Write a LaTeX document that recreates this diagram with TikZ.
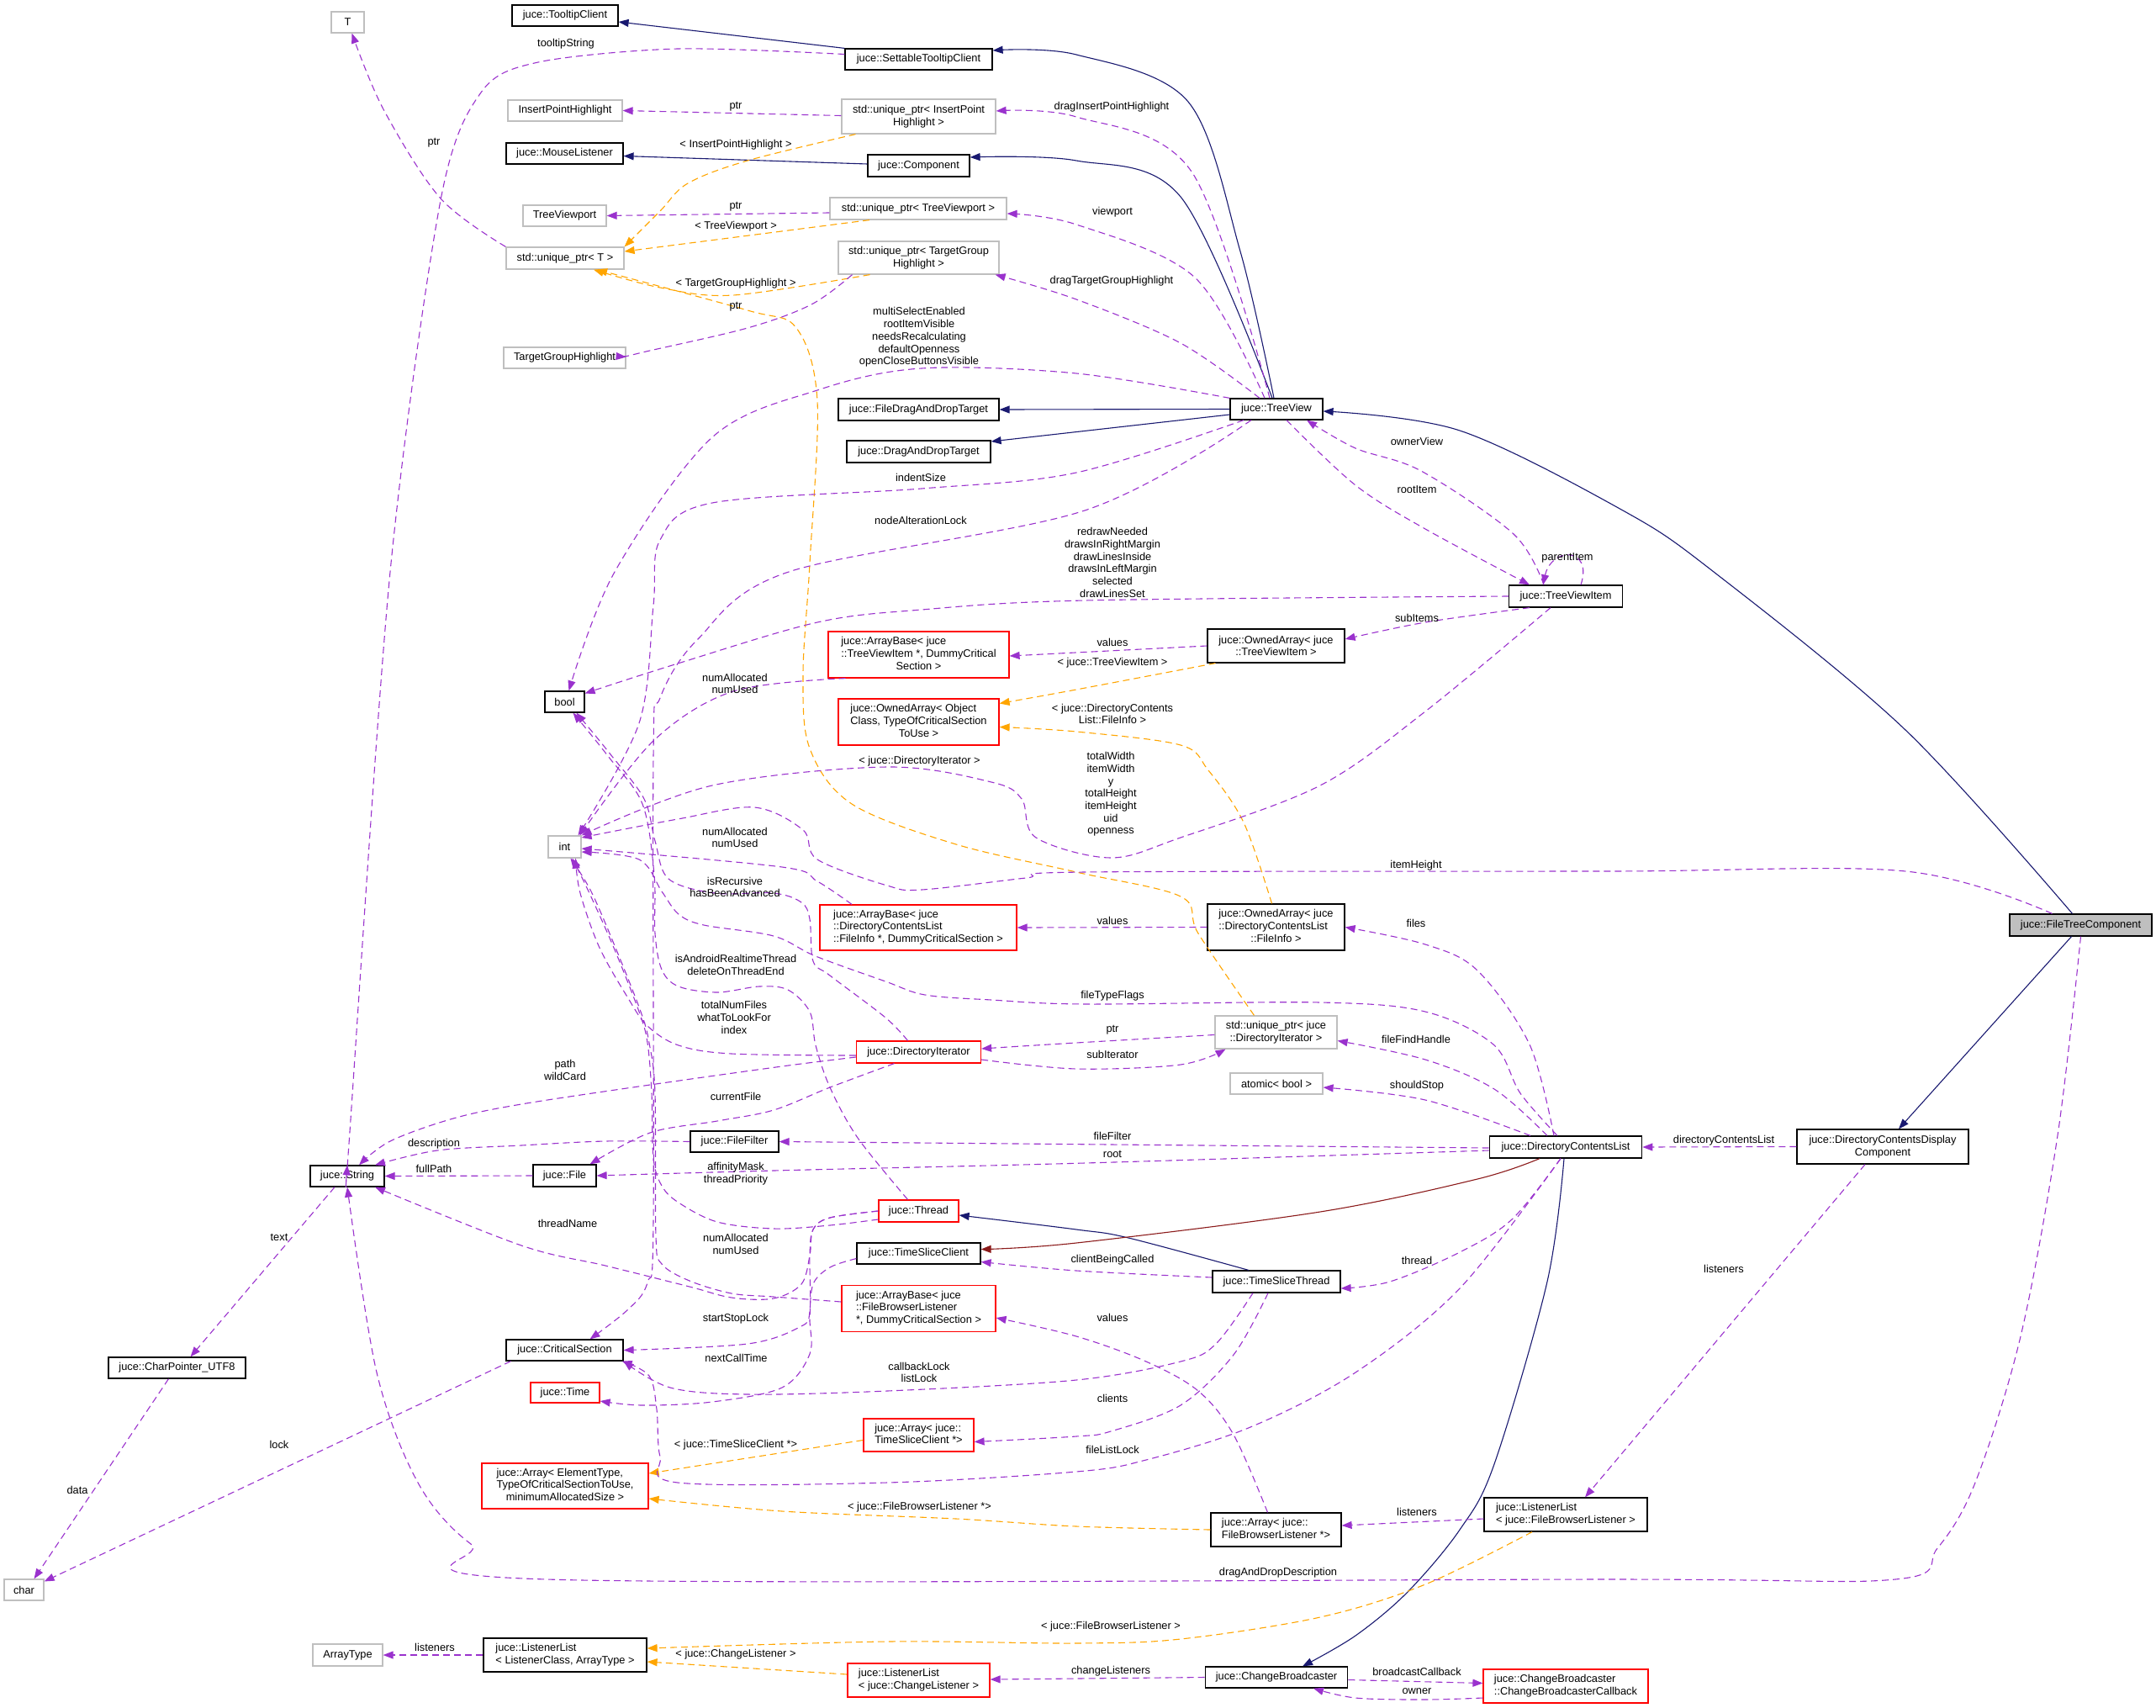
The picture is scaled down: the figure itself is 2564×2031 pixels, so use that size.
\documentclass[tikz,border=0pt]{standalone}
\usepackage{fontspec}
\setmainfont{Liberation Sans}
\usetikzlibrary{arrows.meta}
\definecolor{purp}{HTML}{9A32CD}
\definecolor{orng}{HTML}{FFA500}
\definecolor{navyc}{HTML}{191970}
\definecolor{dred}{HTML}{8B1A1A}
\definecolor{gbox}{HTML}{BFBFBF}
\newcommand{\TL}[1]{\begin{tabular}{@{}l@{}}#1\end{tabular}}
\newcommand{\LC}[1]{\multicolumn{1}{@{}c@{}}{#1}}
\newcommand{\nfont}{\fontsize{12.8}{14.7}\selectfont}
\tikzset{
  box/.style={draw=black, line width=1.2pt, fill=white, inner sep=2pt, font=\nfont, align=center},
  gb/.style={box, draw=gbox},
  rb/.style={box, draw=red},
  sz/.style 2 args={minimum width=#1pt, minimum height=#2pt},
  lbl/.style={font=\nfont, inner sep=0pt, align=center},
  tip/.style={-{Triangle[length=12pt,width=9pt]}},
  pe/.style={draw=purp, line width=1.1pt, dash pattern=on 8pt off 5pt, tip},
  oe/.style={draw=orng, line width=1.1pt, dash pattern=on 8pt off 5pt, tip},
  ne/.style={draw=navyc, line width=1.1pt, tip},
  re/.style={draw=dred, line width=1.1pt, tip},
  sm/.style={smooth, tension=0.55}
}
\begin{document}
\begin{tikzpicture}[x=1pt,y=-1pt]
\useasboundingbox (0,0) rectangle (2564,2031);

% ---------------- nodes ----------------
\node[gb, sz={39}{25}] (T) at (413.5,26.5) {T};
\node[box, sz={126}{25}] (TC) at (672,18.5) {juce::TooltipClient};
\node[box, sz={175}{25}] (STC) at (1092.5,70.5) {juce::SettableTooltipClient};
\node[gb, sz={136}{25}] (IPH) at (672,131.5) {InsertPointHighlight};
\node[gb, sz={183}{41}] (uIPH) at (1092.5,138.5) {std::unique\_ptr< InsertPoint\\Highlight >};
\node[box, sz={139}{25}] (ML) at (671.5,182.5) {juce::MouseListener};
\node[box, sz={121}{26}] (Comp) at (1092.5,197) {juce::Component};
\node[gb, sz={99}{25}] (TVp) at (671.5,256.5) {TreeViewport};
\node[gb, sz={210}{26}] (uTV) at (1092,248) {std::unique\_ptr< TreeViewport >};
\node[gb, sz={140}{26}] (uT) at (672,307) {std::unique\_ptr< T >};
\node[gb, sz={191}{39}] (uTGH) at (1092.5,306.5) {std::unique\_ptr< TargetGroup\\Highlight >};
\node[gb, sz={145}{25}] (TGH) at (671.5,425.5) {TargetGroupHighlight};
\node[box, sz={191}{26}] (FDDT) at (1092.5,487) {juce::FileDragAndDropTarget};
\node[box, sz={171}{26}] (DDT) at (1092.5,537) {juce::DragAndDropTarget};
\node[box, sz={110}{25}] (TV) at (1518,486.5) {juce::TreeView};
\node[box, sz={47}{25}] (bool) at (671.5,834.5) {bool};
\node[rb, sz={215}{55}] (ABTVI) at (1092.5,778.5) {\TL{juce::ArrayBase< juce\\::TreeViewItem *, DummyCritical\\\LC{Section >}}};
\node[rb, sz={191}{55}] (OAOC) at (1092.5,858.5) {\TL{juce::OwnedArray< Object\\Class, TypeOfCriticalSection\\\LC{ToUse >}}};
\node[box, sz={134.5}{26}] (TVI) at (1862,709) {juce::TreeViewItem};
\node[box, sz={163}{40}] (OATVI) at (1517.5,768) {juce::OwnedArray< juce\\::TreeViewItem >};
\node[gb, sz={39}{26}] (int) at (671.5,1007) {int};
\node[rb, sz={234}{54}] (ABFI) at (1092,1103) {\TL{juce::ArrayBase< juce\\::DirectoryContentsList\\::FileInfo *, DummyCriticalSection >}};
\node[box, sz={163}{55}] (OAFI) at (1517.5,1102.5) {\TL{juce::OwnedArray< juce\\::DirectoryContentsList\\\LC{::FileInfo >}}};
\node[gb, sz={145}{39}] (uDI) at (1517.5,1227.5) {std::unique\_ptr< juce\\::DirectoryIterator >};
\node[gb, sz={110}{25}] (atom) at (1518,1288.5) {atomic< bool >};
\node[rb, sz={148}{26}] (DI) at (1092.5,1251) {juce::DirectoryIterator};
\node[box, sz={105}{25}] (FF) at (873.5,1357.5) {juce::FileFilter};
\node[box, sz={181.5}{26}] (DCL) at (1862,1364) {juce::DirectoryContentsList};
\node[box, sz={204}{41}] (DCDC) at (2239,1363.5) {juce::DirectoryContentsDisplay\\Component};
\node[box, fill=gbox, sz={169}{26}] (FTC) at (2474.5,1100) {juce::FileTreeComponent};
\node[box, sz={88}{25}] (Str) at (413,1398.5) {juce::String};
\node[box, sz={75}{26}] (File) at (671.5,1398) {juce::File};
\node[rb, sz={95}{26}] (Thr) at (1092.5,1440) {juce::Thread};
\node[box, sz={147}{25}] (TSC) at (1092.5,1490.5) {juce::TimeSliceClient};
\node[box, sz={152}{26}] (TST) at (1518,1524) {juce::TimeSliceThread};
\node[rb, sz={183}{55}] (ABFBL) at (1092.5,1556) {\TL{juce::ArrayBase< juce\\::FileBrowserListener\\\LC{*, DummyCriticalSection >}}};
\node[box, sz={139}{25}] (CS) at (671.5,1605.5) {juce::CriticalSection};
\node[rb, sz={82}{24}] (Time) at (672,1656) {juce::Time};
\node[rb, sz={131}{39}] (ATSC) at (1092.5,1706.5) {\TL{juce::Array< juce::\\TimeSliceClient *>}};
\node[rb, sz={198}{54}] (AET) at (672,1767) {\TL{juce::Array< ElementType,\\TypeOfCriticalSectionToUse,\\\LC{minimumAllocatedSize >}}};
\node[box, sz={155}{40}] (AFBL) at (1517.5,1819) {\TL{juce::Array< juce::\\FileBrowserListener *>}};
\node[box, sz={194}{40}] (LLFBL) at (1862,1801) {\TL{juce::ListenerList\\< juce::FileBrowserListener >}};
\node[box, sz={163}{25}] (CP) at (210.5,1626.5) {juce::CharPointer\_UTF8};
\node[gb, sz={47}{25}] (char) at (28.5,1890.5) {char};
\node[gb, sz={83}{26}] (AT) at (413.5,1968) {ArrayType};
\node[box, sz={194}{40}] (LLLC) at (672,1968) {\TL{juce::ListenerList\\< ListenerClass, ArrayType >}};
\node[rb, sz={169}{40}] (LLCL) at (1092.5,1998) {\TL{juce::ListenerList\\< juce::ChangeListener >}};
\node[box, sz={169.5}{25}] (CB) at (1518,1994.5) {juce::ChangeBroadcaster};
\node[rb, sz={196}{40}] (CBC) at (1862,2005) {\TL{juce::ChangeBroadcaster\\::ChangeBroadcasterCallback}};

% ---------------- inheritance edges ----------------
\draw[ne] (STC.north west) -- ([yshift=-7.5pt]TC.east);
\draw[ne] ([yshift=2pt]Comp.west) -- ([yshift=-3pt]ML.east);
\draw[ne] plot[sm] coordinates {([xshift=-3pt]TV.north) (1475,299) (1413,121) (1280,65) ([yshift=10.5pt]STC.east)};
\draw[ne] plot[sm] coordinates {([xshift=-5pt]TV.north) (1404,234) (1280,191) ([yshift=10pt]Comp.east)};
\draw[ne] (TV.west) -- (FDDT.east);
\draw[ne] ([yshift=-6.5pt]TV.west) -- ([yshift=12pt]DDT.east);
\draw[ne] plot[sm] coordinates {([xshift=-10pt]FTC.north) (2266,868) (2038,680) (1930,607) (1736,512) ([yshift=-2.5pt]TV.east)};
\draw[ne] ([xshift=-11pt]FTC.south) -- ([xshift=19pt]DCDC.north);
\draw[ne] plot[sm] coordinates {([xshift=-33pt]TST.north) (1342,1472) (1280,1462) ([yshift=-5pt]Thr.east)};
\draw[re] plot[sm] coordinates {([xshift=-31pt]DCL.south) (1757,1402) (1570,1441) (1280,1478) ([yshift=5pt]TSC.east)};
\draw[ne] plot[sm] coordinates {([xshift=-2pt]DCL.south) (1840,1524) (1777,1741) (1736,1819) (1674,1893) (1612,1945) ([xshift=31pt]CB.north)};

% ---------------- template (orange) edges ----------------
\draw[oe] plot[sm] coordinates {([xshift=-75pt]uIPH.south) (889,191) (818,218) (785,251) (uT.north east)};
\draw[oe] ([xshift=-58pt]uTV.south) -- ([yshift=8pt]uT.east);
\draw[oe] plot[sm] coordinates {([xshift=-58pt]uTGH.south) (872,351) (785,342) ([xshift=34pt]uT.south)};
\draw[oe] plot[sm] coordinates {([xshift=-26pt]uDI.north) (1425,1110) (1404,1066) (1280,1037) (1137,1004) (1013,956) (963,890) (955,802) (963,670) (972,477) (947,390) (889,369) ([xshift=38pt]uT.south)};
\draw[oe] plot[sm] coordinates {([xshift=-72pt]OATVI.south) (1280,820) ([yshift=22pt]OAOC.east)};
\draw[oe] plot[sm] coordinates {([xshift=-5pt]OAFI.north) (1479,978) (1437,916) (1404,886) (1280,870) ([yshift=-6pt]OAOC.east)};
\draw[oe] ([yshift=-6pt]ATSC.west) -- ([yshift=15pt]AET.east);
\draw[oe] plot[sm] coordinates {(AFBL.west) (1280,1815) (1137,1806) (930,1797) ([yshift=-15pt]AET.east)};
\draw[oe] plot[sm] coordinates {([xshift=-40pt]LLFBL.south) (1695,1884) (1570,1923) (1404,1949) (1280,1954) (1055,1952) ([yshift=8pt]LLLC.east)};
\draw[oe] ([yshift=7pt]LLCL.west) -- ([yshift=-8pt]LLLC.east);

% ---------------- member (purple) edges ----------------
\draw[pe] plot[sm] coordinates {(uT.north west) (524,236) (456,130) ([xshift=5pt]T.south)};
\draw[pe] plot[smooth, tension=0.5] coordinates {([yshift=6pt]STC.west) (806,58) (640,74) (572,110) (524,238) (464,680) (415,1360) (Str.north)};
\draw[pe] ([yshift=1pt]uIPH.west) -- (IPH.east);
\draw[pe] ([yshift=-5pt]uTV.west) -- (TVp.east);
\draw[pe] plot[sm] coordinates {([xshift=-79pt]uTGH.south) (965,362) (889,390) (764,419) ([yshift=1pt]TGH.east)};
\draw[pe] plot[sm] coordinates {([xshift=-8pt]TV.north) (1417,204) (1280,139) ([yshift=6.5pt]uIPH.east)};
\draw[pe] plot[sm] coordinates {([xshift=-14pt]TV.north) (1421,330) (1280,267) ([yshift=-6pt]uTV.east)};
\draw[pe] plot[sm] coordinates {([xshift=-20pt]TV.north) (1404,408) (1280,356) ([xshift=-5pt]uTGH.south east)};
\draw[pe] plot[sm] coordinates {(TV.north west) (1280,444) (1096,438) (972,464) (847,520) (731,680) ([xshift=5pt]bool.north)};
\draw[pe] plot[sm] coordinates {([xshift=-39pt]TV.south) (1280,562) (1096,581) (847,598) (785,642) (777,720) (760,860) ([xshift=16pt]int.north)};
\draw[pe] plot[sm] coordinates {([xshift=-30pt]TV.south) (1290,607) (938,680) (830,760) (785,830) (777,900) (777,1450) (770,1525) (747,1557) ([xshift=30pt]CS.north)};
\draw[pe] plot[sm] coordinates {([xshift=-26pt]TVI.north) (1800,635) (1690,560) (1612,533) ([xshift=36pt]TV.south)};
\draw[pe] plot[sm] coordinates {([xshift=12pt]TV.south) (1612,577) (1695,629) ([xshift=-43pt]TVI.north)};
\draw[pe] ([xshift=18pt]TVI.north) .. controls (1895,650) and (1845,650) .. ([xshift=-27pt]TVI.north);
\draw[pe] plot[sm] coordinates {(TVI.west) (1290,714) (1096,725) (972,740) (806,789) ([yshift=10pt]bool.east)};
\draw[pe] plot[sm] coordinates {([xshift=-43pt]TVI.south) (1695,740) ([yshift=8pt]OATVI.east)};
\draw[pe] plot[sm] coordinates {([xshift=-18pt]TVI.south) (1695,846) (1570,934) (1404,996) (1321,1020) (1232,996) (1215,950) (1179,930) (1055,912) (847,934) (int.north east)};
\draw[pe] (OATVI.west) -- ([yshift=-1.5pt]ABTVI.east);
\draw[pe] plot[sm] coordinates {([xshift=-87pt]ABTVI.south) (872,822) (777,881) ([xshift=18pt]int.north)};
\draw[pe] plot[sm] coordinates {([xshift=-34pt]FTC.north) (2266,1036) (1914,1036) (1290,1037) (1220,1044) (1096,1058) (1055,1053) (972,1022) (955,987) (897,960) (806,974) ([yshift=11pt]int.east)};
\draw[pe] (OAFI.west) -- (ABFI.east);
\draw[pe] plot[sm] coordinates {([xshift=-79pt]ABFI.north) (972,1048) (930,1031) ([yshift=-2pt]int.east)};
% isRecursive / hasBeenAdvanced
\draw[pe] plot[sm] coordinates {([xshift=-13pt]DI.north) (1053,1210) (987,1160) (967,1143) (963,1093) (953,1073) (920,1062) (850,1062) (795,1045) (779,1000) (766,950) (726,897) ([xshift=14pt]bool.south)};
\draw[pe] plot[sm] coordinates {([xshift=-14pt]DCL.north) (1819,1242) (1757,1154) (1695,1123) (OAFI.east)};
% fileTypeFlags
\draw[pe] plot[sm] coordinates {([xshift=-10pt]DCL.north) (1808,1300) (1776,1242) (1695,1203) (1570,1192) (1290,1194) (1179,1189) (1100,1183) (1053,1167) (970,1137) (920,1113) (837,1100) (807,1087) (787,1060) (760,1022) ([yshift=-6pt]int.east)};
% isAndroidRealtimeThread
\draw[pe] plot[sm] coordinates {([xshift=-13pt]Thr.north) (1020,1353) (987,1293) (970,1243) (963,1203) (937,1177) (903,1173) (853,1180) (807,1173) (787,1153) (779,1110) (778,1040) (764,956) (723,899) ([xshift=10pt]bool.south)};
% totalNumFiles
\draw[pe] plot[sm] coordinates {([yshift=-4pt]DI.west) (870,1253) (807,1243) (770,1220) (747,1187) (713,1127) (690,1062) ([xshift=13pt]int.south)};
\draw[pe] plot[sm] coordinates {([yshift=-3pt]uDI.west) (1280,1240) ([yshift=4pt]DI.east)};
\draw[pe] plot[sm] coordinates {([yshift=-9pt]DI.east) (1280,1271) (1404,1266) ([xshift=-60pt]uDI.south)};
\draw[pe] plot[sm] coordinates {([xshift=-22pt]DCL.north) (1777,1295) (1695,1260) ([yshift=-10pt]uDI.east)};
\draw[pe] plot[sm] coordinates {([yshift=-6pt]DI.west) (930,1268) (773,1290) (620,1313) (539,1330) (464,1357) ([xshift=14pt]Str.north)};
\draw[pe] plot[sm] coordinates {([xshift=-29pt]DI.south) (987,1293) (920,1320) (853,1333) (773,1347) ([xshift=30pt]File.north)};
\draw[pe] plot[sm] coordinates {([xshift=-42pt]DCL.north) (1695,1308) ([yshift=-4.5pt]atom.east)};
\draw[pe] ([yshift=-1pt]DCL.west) -- (FF.east);
\draw[pe] plot[sm] coordinates {(FF.west) (720,1357) (620,1362) (520,1368) ([xshift=33pt]Str.north)};
\draw[pe] plot[sm] coordinates {([yshift=-4pt]DCL.west) (1290,1383) (920,1392) (File.east)};
\draw[pe] (File.west) -- (Str.east);
\draw[pe] (DCDC.west) -- (DCL.east);
% affinityMask / threadPriority
\draw[pe] plot[sm] coordinates {([yshift=-10pt]Thr.west) (987,1457) (920,1461) (853,1453) (807,1430) (787,1410) (777,1377) (775,1300) (770,1240) (760,1203) (730,1127) (700,1060) ([xshift=9pt]int.south)};
% numAllocated (FileBrowserListener ArrayBase)
\draw[pe] plot[sm] coordinates {([yshift=8pt]ABFBL.west) (920,1542) (870,1538) (820,1523) (787,1503) (780,1470) (779,1300) (772,1240) (762,1203) (732,1127) (703,1060) ([xshift=7pt]int.south)};
% threadName
\draw[pe] plot[sm] coordinates {(Thr.west) (987,1448) (967,1462) (963,1493) (953,1527) (920,1544) (870,1543) (820,1530) (720,1505) (620,1481) ([xshift=33pt]Str.south)};
\draw[pe] plot[sm] coordinates {([yshift=5pt]TST.west) (1280,1511) ([yshift=-10pt]TSC.east)};
\draw[pe] plot[sm] coordinates {([xshift=-6pt]DCL.south) (1798,1450) (1736,1489) (1653,1524) ([yshift=-8pt]TST.east)};
\draw[pe] plot[sm] coordinates {([xshift=-10pt]AFBL.north) (1467,1706) (1425,1654) (1363,1619) (1280,1589) ([yshift=-11pt]ABFBL.east)};
% startStopLock
\draw[pe] plot[sm] coordinates {(Thr.west) (987,1448) (967,1462) (963,1493) (963,1560) (951,1578) (889,1598) (CS.east)};
\draw[pe] plot[sm] coordinates {([xshift=-28pt]TST.south) (1446,1598) (1404,1619) (1280,1641) (1055,1654) (889,1658) (797,1650) (CS.south east)};
% nextCallTime
\draw[pe] plot[sm] coordinates {([yshift=-6pt]TSC.west) (987,1507) (967,1527) (963,1567) (963,1610) (930,1650) (847,1667) (764,1671) ([yshift=-10pt]Time.east)};
\draw[pe] plot[sm] coordinates {([xshift=-10pt]TST.south) (1467,1611) (1404,1671) (1321,1702) (1280,1708) ([yshift=-8pt]ATSC.east)};
\draw[pe] plot[sm] coordinates {([xshift=-6pt]DCL.south) (1736,1532) (1612,1632) (1487,1697) (1363,1736) (1280,1750) (1055,1763) (806,1763) (785,1732) (781,1676) (772,1636) ([xshift=-2pt]CS.south east)};
\draw[pe] ([yshift=-5pt]LLFBL.west) -- ([yshift=5pt]AFBL.east);
\draw[pe] ([xshift=-21pt]DCDC.south) -- ([xshift=23pt]LLFBL.north);
\draw[pe] plot[sm] coordinates {(FTC.south) (2447,1350) (2403,1589) (2349,1763) (2304,1841) (2254,1878) (1914,1878) (650,1878) (560,1836) (497,1763) (448,1632) (Str.south)};
\draw[pe] ([xshift=-64pt]CS.south) -- ([yshift=10pt]char.east);
\draw[pe] ([xshift=-15pt]Str.south) -- ([xshift=16pt]CP.north);
\draw[pe] ([xshift=-10pt]CP.south) -- ([xshift=12pt]char.north);
\draw[pe] (LLLC.west) -- (AT.east);
\draw[pe] (CB.west) -- ([yshift=1pt]LLCL.east);
\draw[pe] ([yshift=-3pt]CB.east) -- ([yshift=3.5pt]CBC.west);
\draw[pe] plot[sm] coordinates {([yshift=-14pt]CBC.west) (1695,2021) (1612,2019) ([xshift=44pt]CB.south)};

% ---------------- labels ----------------
\node[lbl] (l1) at (516,170) {ptr};
\node[lbl] (l2) at (673,52) {tooltipString};
\node[lbl] (l3) at (875,127) {ptr};
\node[lbl] (l4) at (875,172) {< InsertPointHighlight >};
\node[lbl] (l5) at (875,246) {ptr};
\node[lbl] (l6) at (875,269) {< TreeViewport >};
\node[lbl] (l7) at (875,337) {< TargetGroupHighlight >};
\node[lbl] (l8) at (875,365) {ptr};
\node[lbl] (l9) at (1322,127) {dragInsertPointHighlight};
\node[lbl] (l10) at (1323,252) {viewport};
\node[lbl] (l11) at (1322,334) {dragTargetGroupHighlight};
\node[lbl] (l12) at (1093,401) {multiSelectEnabled\\rootItemVisible\\needsRecalculating\\defaultOpenness\\openCloseButtonsVisible};
\node[lbl] (l13) at (1095,568) {indentSize};
\node[lbl] (l14) at (1095,619) {nodeAlterationLock};
\node[lbl] (l15) at (1685,525) {ownerView};
\node[lbl] (l16) at (1685,582) {rootItem};
\node[lbl] (l17) at (1864,663) {parentItem};
\node[lbl] (l18) at (1323,669) {redrawNeeded\\drawsInRightMargin\\drawLinesInside\\drawsInLeftMargin\\selected\\drawLinesSet};
\node[lbl] (l19) at (1685,735) {subItems};
\node[lbl] (l20) at (1323,764) {values};
\node[lbl] (l21) at (1323,788) {< juce::TreeViewItem >};
\node[lbl] (l22) at (874,813) {numAllocated\\numUsed};
\node[lbl] (l23) at (1323,849) {< juce::DirectoryContents\\List::FileInfo >};
\node[lbl] (l24) at (1093.5,905) {< juce::DirectoryIterator >};
\node[lbl] (l25) at (1321,944.5) {totalWidth\\itemWidth\\y\\totalHeight\\itemHeight\\uid\\openness};
\node[lbl] (l26) at (874,996) {numAllocated\\numUsed};
\node[lbl] (l27) at (1684,1029) {itemHeight};
\node[lbl] (l28) at (874,1055) {isRecursive\\hasBeenAdvanced};
\node[lbl] (l29) at (1323,1095) {values};
\node[lbl] (l30) at (1684,1098) {files};
\node[lbl] (l31) at (875,1147.5) {isAndroidRealtimeThread\\deleteOnThreadEnd};
\node[lbl] (l32) at (1323,1184) {fileTypeFlags};
\node[lbl] (l33) at (873,1210) {totalNumFiles\\whatToLookFor\\index};
\node[lbl] (l34) at (1323,1225) {ptr};
\node[lbl] (l35) at (1684,1236) {fileFindHandle};
\node[lbl] (l36) at (1323,1254) {subIterator};
\node[lbl] (l37) at (672,1272.5) {path\\wildCard};
\node[lbl] (l38) at (1685,1291) {shouldStop};
\node[lbl] (l39) at (875,1304) {currentFile};
\node[lbl] (l40) at (1323,1351) {fileFilter};
\node[lbl] (l41) at (2050,1356) {directoryContentsList};
\node[lbl] (l42) at (516,1360) {description};
\node[lbl] (l43) at (1323,1372) {root};
\node[lbl] (l44) at (875,1395.5) {affinityMask\\threadPriority};
\node[lbl] (l45) at (516,1390) {fullPath};
\node[lbl] (l46) at (675,1455) {threadName};
\node[lbl] (l47) at (332,1471) {text};
\node[lbl] (l48) at (875,1479.5) {numAllocated\\numUsed};
\node[lbl] (l49) at (1323,1498.5) {clientBeingCalled};
\node[lbl] (l50) at (1685,1498.5) {thread};
\node[lbl] (l51) at (2050,1508.5) {listeners};
\node[lbl] (l52) at (1323,1567) {values};
\node[lbl] (l53) at (875,1568) {startStopLock};
\node[lbl] (l54) at (875.5,1614.5) {nextCallTime};
\node[lbl] (l55) at (1093,1632) {callbackLock\\listLock};
\node[lbl] (l56) at (1323,1663) {clients};
\node[lbl] (l57) at (332,1718) {lock};
\node[lbl] (l58) at (875,1718) {< juce::TimeSliceClient *>};
\node[lbl] (l59) at (1323,1724) {fileListLock};
\node[lbl] (l60) at (92,1772) {data};
\node[lbl] (l61) at (1093.5,1792) {< juce::FileBrowserListener *>};
\node[lbl] (l62) at (1685,1798) {listeners};
\node[lbl] (l63) at (1520,1870) {dragAndDropDescription};
\node[lbl] (l64) at (1321,1934) {< juce::FileBrowserListener >};
\node[lbl] (l65) at (517,1959) {listeners};
\node[lbl] (l66) at (875,1967.6) {< juce::ChangeListener >};
\node[lbl] (l67) at (1321,1987) {changeListeners};
\node[lbl] (l68) at (1685,1988) {broadcastCallback};
\node[lbl] (l69) at (1685,2011.5) {owner};
\end{tikzpicture}
\end{document}
